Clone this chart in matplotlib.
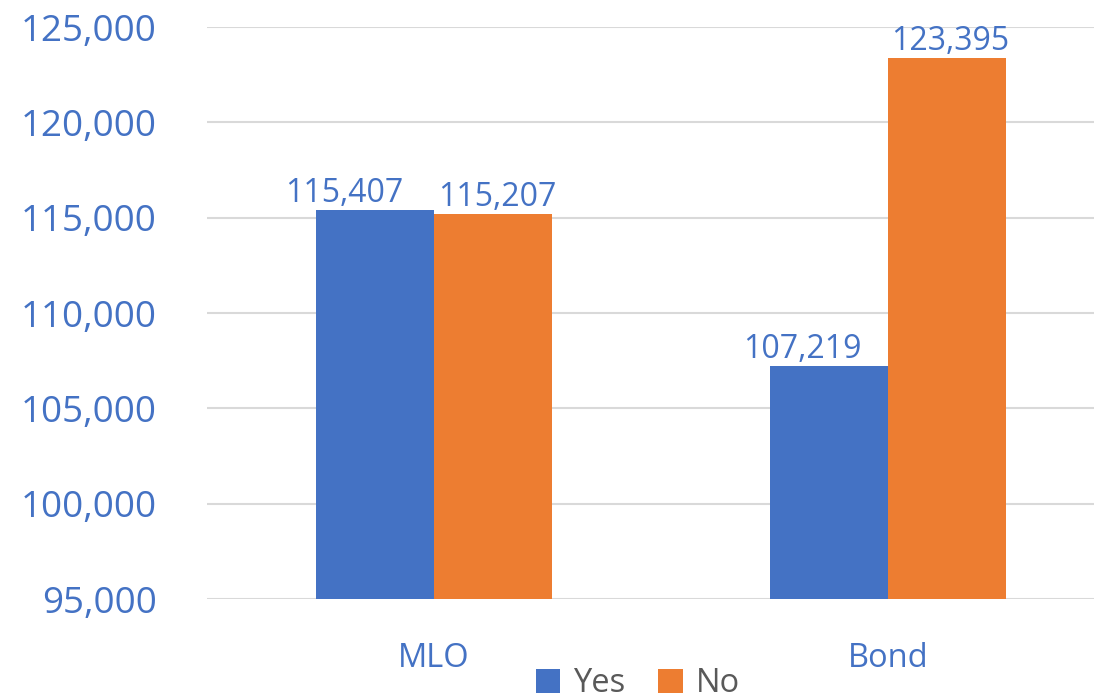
import numpy as np
import matplotlib.pyplot as plt
from matplotlib.ticker import FuncFormatter

categories = ['MLO', 'Bond']
series = ['Yes', 'No']
yes_vals = [115407, 107219]
no_vals = [115207, 123395]

blue = '#4472C4'
orange = '#ED7D31'
grid_c = '#D9D9D9'
text_blue = '#4472C4'
text_gray = '#595959'

plt.rcParams['font.family'] = ['Open Sans', 'DejaVu Sans']

fig = plt.figure(figsize=(10.94, 6.99), dpi=100)
ax = fig.add_axes([207 / 1094, 100 / 699, 908 / 1094, 572 / 699])

x = np.arange(len(categories))
w = 0.261
b1 = ax.bar(x - w / 2, yes_vals, w, color=blue, label=series[0], zorder=3)
b2 = ax.bar(x + w / 2, no_vals, w, color=orange, label=series[1], zorder=3)

# labels get nudged sideways so neighbouring ones don't collide (like Excel)
nudge = {(0, 0): -22, (0, 1): 3, (1, 0): -19, (1, 1): 2}
for si, bars in enumerate((b1, b2)):
    for ci, r in enumerate(bars):
        v = r.get_height()
        ax.annotate(f'{v:,.0f}', (r.get_x() + r.get_width() / 2, v),
                    xytext=(nudge[(ci, si)], 0), textcoords='offset points',
                    ha='center', va='bottom', fontsize=23, color=text_blue)

ax.set_ylim(95000, 125000)
ax.set_xlim(-0.5, 1.5)
ax.set_yticks(np.arange(95000, 125001, 5000))
ax.yaxis.set_major_formatter(FuncFormatter(lambda v, p: f'{v:,.0f}'))
ax.set_xticks(x)
ax.set_xticklabels(categories)

ax.grid(axis='y', color=grid_c, linewidth=1.5, zorder=0)
for s in ['top', 'right', 'left', 'bottom']:
    ax.spines[s].set_visible(False)
ax.tick_params(axis='y', length=0, pad=36, labelsize=26.5, labelcolor=text_blue)
ax.tick_params(axis='x', length=0, pad=31, labelsize=23.5, labelcolor=text_blue)

leg = fig.legend(handles=[b1, b2], labels=series, loc='lower center',
                 bbox_to_anchor=(638 / 1094, -0.044), ncol=2, frameon=False,
                 fontsize=23.5, handlelength=0.75, handleheight=0.75,
                 handletextpad=0.4, columnspacing=1.0)
for t in leg.get_texts():
    t.set_color(text_gray)

fig.savefig('out.png', dpi=100)
